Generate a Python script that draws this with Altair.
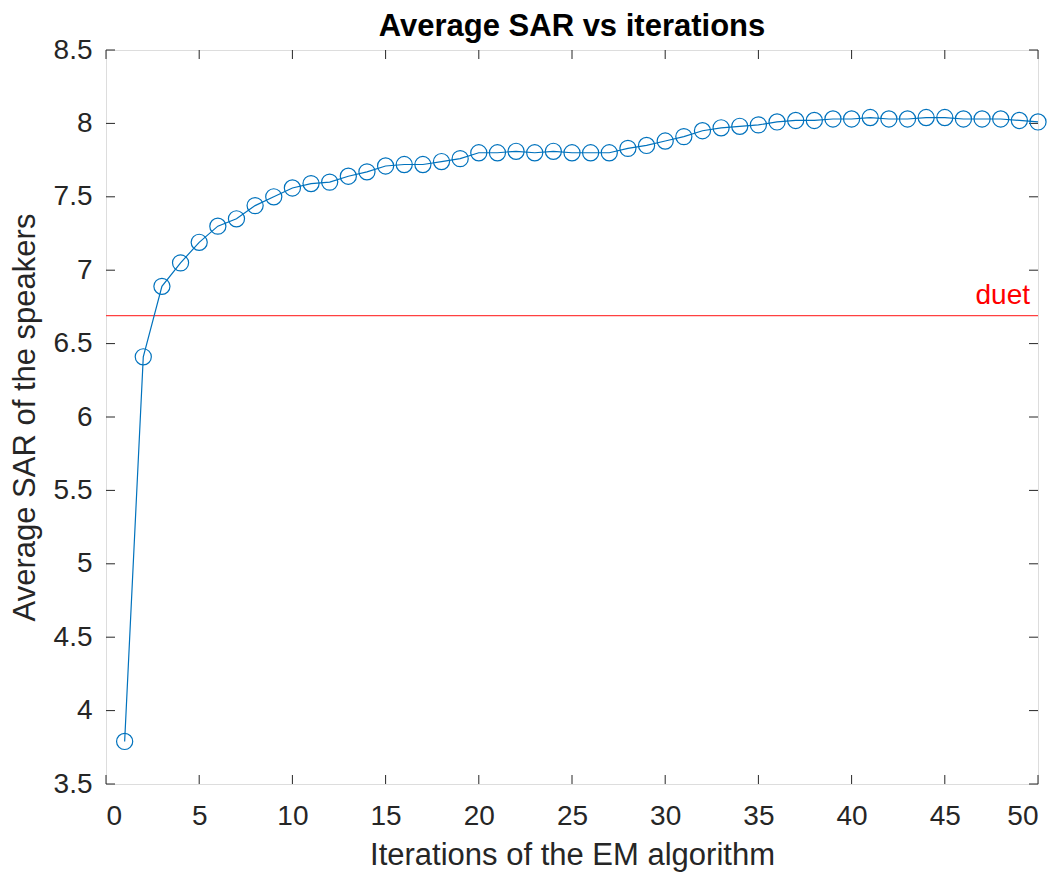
import altair as alt
import pandas as pd

iterations = list(range(1, 51))
sar = [3.79, 6.41, 6.89, 7.05, 7.19, 7.30, 7.35, 7.44, 7.50, 7.56,
       7.59, 7.60, 7.64, 7.67, 7.71, 7.72, 7.72, 7.74, 7.76, 7.80,
       7.80, 7.81, 7.80, 7.81, 7.80, 7.80, 7.80, 7.83, 7.85, 7.88,
       7.91, 7.95, 7.97, 7.98, 7.99, 8.01, 8.02, 8.02, 8.03, 8.03,
       8.04, 8.03, 8.03, 8.04, 8.04, 8.03, 8.03, 8.03, 8.02, 8.01]
duet_value = 6.69
duet_label = "duet"
x_ticks = [0, 5, 10, 15, 20, 25, 30, 35, 40, 45, 50]
y_ticks = [3.5, 4, 4.5, 5, 5.5, 6, 6.5, 7, 7.5, 8, 8.5]

W, H = 932, 734
FONT = "Liberation Sans"
BLUE = "#0072BD"
AX = "#262626"

df = pd.DataFrame({"it": iterations, "sar": sar})
dx = pd.DataFrame({"t": x_ticks})
dy = pd.DataFrame({"t": y_ticks})
dd = pd.DataFrame({"v": [duet_value], "x": [50], "label": [duet_label]})

xs = alt.Scale(domain=[0, 50], nice=False, zero=False)
ys = alt.Scale(domain=[3.5, 8.5], nice=False, zero=False)

xaxis = alt.Axis(values=x_ticks, title="Iterations of the EM algorithm", grid=False,
                 domain=False, ticks=False, labelPadding=18, labelFontSize=28,
                 labelFont=FONT, labelColor=AX, titleFont=FONT, titleFontSize=31,
                 titleFontWeight="normal", titleColor=AX, titlePadding=10,
                 labelExpr="'' + datum.value")
yaxis = alt.Axis(values=y_ticks, title="Average SAR of the speakers", grid=False,
                 domain=False, ticks=False, labelPadding=14, labelFontSize=28,
                 labelFont=FONT, labelColor=AX, titleFont=FONT, titleFontSize=31,
                 titleFontWeight="normal", titleColor=AX, titlePadding=12,
                 labelExpr="'' + datum.value")

line = alt.Chart(df).mark_line(color=BLUE, strokeWidth=1.2).encode(
    x=alt.X("it:Q", scale=xs, axis=xaxis),
    y=alt.Y("sar:Q", scale=ys, axis=yaxis),
)
pts = alt.Chart(df).mark_point(shape="circle", filled=False, color=BLUE, size=260,
                               strokeWidth=1.2, opacity=1).encode(
    x=alt.X("it:Q", scale=xs), y=alt.Y("sar:Q", scale=ys))

duet = alt.Chart(dd).mark_rule(color="#FF4040", strokeWidth=1.2).encode(
    y=alt.Y("v:Q", scale=ys), x=alt.value(0), x2=alt.value(W))
duet_txt = alt.Chart(dd).mark_text(color="#FF0000", font=FONT, fontSize=28, align="right",
                                   baseline="alphabetic", dx=-8, dy=-12).encode(
    x=alt.X("x:Q", scale=xs), y=alt.Y("v:Q", scale=ys), text="label:N")

tb = alt.Chart(dx).mark_rule(color=AX, strokeWidth=1).encode(
    x=alt.X("t:Q", scale=xs), y=alt.value(H), y2=alt.value(H - 9))
tt = alt.Chart(dx).mark_rule(color=AX, strokeWidth=1).encode(
    x=alt.X("t:Q", scale=xs), y=alt.value(0), y2=alt.value(9))
tl = alt.Chart(dy).mark_rule(color=AX, strokeWidth=1).encode(
    y=alt.Y("t:Q", scale=ys), x=alt.value(0), x2=alt.value(9))
tr = alt.Chart(dy).mark_rule(color=AX, strokeWidth=1).encode(
    y=alt.Y("t:Q", scale=ys), x=alt.value(W), x2=alt.value(W - 9))

chart = alt.layer(duet, duet_txt, tb, tt, tl, tr, line, pts).properties(
    width=W, height=H,
    title=alt.TitleParams("Average SAR vs iterations", font=FONT, fontSize=31,
                          fontWeight="bold", color="#000000", anchor="middle",
                          frame="group", baseline="alphabetic", offset=12, dy=43),
    autosize=alt.AutoSizeParams(type="none"),
    padding={"left": 106, "top": 50, "right": 20, "bottom": 90},
).configure_view(stroke=AX, strokeWidth=1).configure(background="white")

chart.save("out.html", embed_options={"renderer": "svg", "actions": False})
